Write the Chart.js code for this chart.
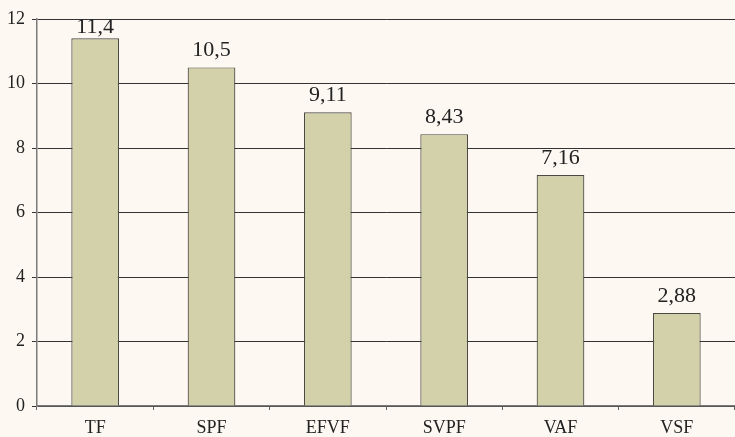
<!DOCTYPE html>
<html>
<head>
<script src="https://cdn.jsdelivr.net/npm/chart.js@4.4.0/dist/chart.umd.min.js"></script>
<style>
  html, body { margin: 0; padding: 0; background: #fdf9f2; }
  #wrap { width: 735px; height: 437px; }
</style>
</head>
<body>
<div id="wrap"><canvas id="c"></canvas></div>
<script>
// datos del gráfico
const categories = ['TF', 'SPF', 'EFVF', 'SVPF', 'VAF', 'VSF'];
const values = [11.4, 10.5, 9.11, 8.43, 7.16, 2.88];
const valueLabels = ['11,4', '10,5', '9,11', '8,43', '7,16', '2,88'];
const yTicks = [0, 2, 4, 6, 8, 10, 12];

const serif = '"Liberation Serif", "Times New Roman", serif';

// etiquetas encima de cada barra (sin salirse por arriba)
const barLabels = {
  id: 'barLabels',
  afterDatasetsDraw(chart) {
    const ctx = chart.ctx;
    const meta = chart.getDatasetMeta(0);
    ctx.save();
    ctx.font = '22px ' + serif;
    ctx.fillStyle = '#222';
    ctx.textAlign = 'center';
    ctx.textBaseline = 'alphabetic';
    meta.data.forEach((bar, i) => {
      const y = Math.max(bar.y - 11, chart.chartArea.top + 14);
      ctx.fillText(valueLabels[i], bar.x, y);
    });
    ctx.restore();
  }
};

new Chart(document.getElementById('c'), {
  type: 'bar',
  data: {
    labels: categories,
    datasets: [{
      data: values,
      backgroundColor: '#d3d1a9',
      borderColor: '#4a4a40',
      borderWidth: 1.2,
      categoryPercentage: 0.41,
      barPercentage: 1
    }]
  },
  options: {
    responsive: true,
    maintainAspectRatio: false,
    animation: false,
    layout: { padding: { top: 19, right: 0, left: 0, bottom: 0 } },
    plugins: { legend: { display: false }, tooltip: { enabled: false } },
    scales: {
      x: {
        offset: true,
        afterFit: (scale) => { scale.height = 31; },
        grid: {
          offset: true,
          drawOnChartArea: false,
          drawTicks: true,
          tickLength: 4,
          color: '#666'
        },
        border: { color: '#7a7a7a', width: 1.5 },
        ticks: { color: '#222', font: { family: serif, size: 18 }, padding: 7 }
      },
      y: {
        min: 0,
        max: 12,
        afterBuildTicks: (axis) => { axis.ticks = yTicks.map(v => ({ value: v })); },
        grid: { color: '#333', lineWidth: 1, tickLength: 5 },
        border: { color: '#7a7a7a', width: 1.5 },
        ticks: { color: '#222', font: { family: serif, size: 18 }, padding: 7 }
      }
    }
  },
  plugins: [barLabels]
});
</script>
</body>
</html>
